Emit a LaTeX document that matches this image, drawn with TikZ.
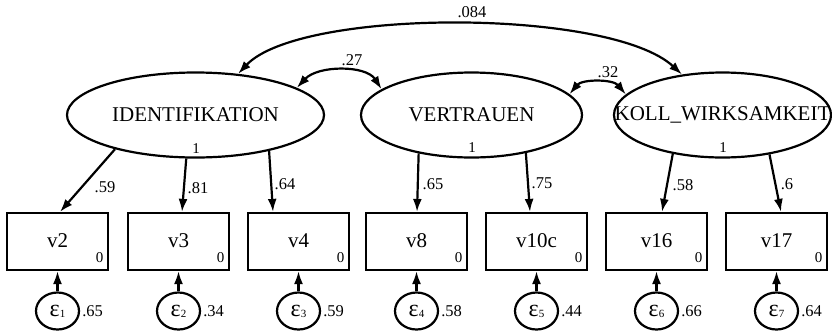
\documentclass[tikz,border=0pt]{standalone}
\usepackage{fontspec}
\setmainfont{Liberation Serif}
\usetikzlibrary{arrows.meta,calc,shapes.geometric}
\tikzset{
  ln/.style={line width=2.2pt},
  arr/.style={ln,-{Latex[length=13pt,width=9pt]}},
  dbl/.style={ln,{Latex[length=13pt,width=9pt]}-{Latex[length=13pt,width=9pt]}},
  latent/.style={draw,ln,ellipse,inner sep=0pt,minimum height=85pt},
  big/.style={inner sep=0pt,font=\fontsize{21}{24}\selectfont},
  obs/.style={draw,ln,rectangle,inner sep=0pt,minimum width=101pt,minimum height=57pt,font=\fontsize{21}{24}\selectfont},
  errc/.style={draw,ln,ellipse,inner sep=0pt,minimum width=43pt,minimum height=37pt},
  sm/.style={inner sep=1pt,font=\fontsize{16.5}{18}\selectfont},
  tiny/.style={inner sep=1pt,font=\fontsize{15}{16}\selectfont}
}
\begin{document}
\begin{tikzpicture}[x=1pt,y=-1pt]
\useasboundingbox (0,0) rectangle (832,333);
% latent variables
\node[latent,minimum width=257pt] (ident) at (195.5,115) {};
\node[latent,minimum width=221pt] (vert) at (471.5,115) {};
\node[latent,minimum width=217pt] (koll) at (722.5,115) {};
\node[big] (identt) at (ident) {IDENTIFIKATION};
\node[big] (vertt) at (vert) {VERTRAUEN};
\node[big] (kollt) at (koll) {KOLL\_WIRKSAMKEIT};
\node[tiny] (i1) at (196,149) {1};
\node[tiny] (vt1) at (472,148) {1};
\node[tiny] (k1) at (723,148) {1};
% observed variables, errors
\foreach \nm/\lab/\xx/\ee/\var in {v2/v2/57.5/1/.65, v3/v3/178.5/2/.34, v4/v4/298.5/3/.59, v8/v8/416.5/4/.58, v10c/v10c/536.5/5/.44, v16/v16/656.5/6/.66, v17/v17/776.5/7/.64}{
  \node[obs] (\nm) at (\xx,241.5) {\raisebox{2pt}{\lab}};
  \node[tiny] (z\nm) at (\xx+42,258) {0};
  \node[errc] (e\ee) at (\xx,311) {{\fontsize{24}{24}\selectfont ε}{\fontsize{11}{11}\selectfont\raisebox{-1pt}{\ee}}};
  \node[sm,anchor=west,inner sep=2pt] (ev\ee) at (e\ee.east) {\var};
  \draw[arr] (e\ee) -- (\nm);
}
% loadings
\draw[arr] (ident.-157) -- ($(v2.north)+(2.5,0)$);
\draw[arr] (ident.-102) -- ($(v3.north)+(3.5,0)$);
\draw[arr] (ident.-26) -- ($(v4.north)+(-25.5,0)$);
\draw[arr] (vert.-144) -- ($(v8.north)+(0.5,0)$);
\draw[arr] (vert.-35) -- ($(v10c.north)+(-6.5,0)$);
\draw[arr] (koll.-142) -- ($(v16.north)+(5.5,0)$);
\draw[arr] (koll.-40) -- ($(v17.north)+(4.5,0)$);
\node[sm] (l1) at (105,187) {.59};
\node[sm] (l2) at (198,188) {.81};
\node[sm] (l3) at (285,184) {.64};
\node[sm] (l4) at (433,184) {.65};
\node[sm] (l5) at (542,183) {.75};
\node[sm] (l6) at (683,185) {.58};
\node[sm] (l7) at (787,184) {.6};
% covariances
\draw[dbl] (ident.44) .. controls (300,8) and (610,8) .. (koll.135);
\draw[dbl] (ident.15) .. controls (318,65) and (366,65) .. (vert.164);
\draw[dbl] (vert.12) .. controls (582,79) and (613,79) .. (koll.168);
\node[sm] (c1) at (472,12) {.084};
\node[sm] (c2) at (352,60) {.27};
\node[sm] (c3) at (608,72) {.32};
\end{tikzpicture}
\end{document}
